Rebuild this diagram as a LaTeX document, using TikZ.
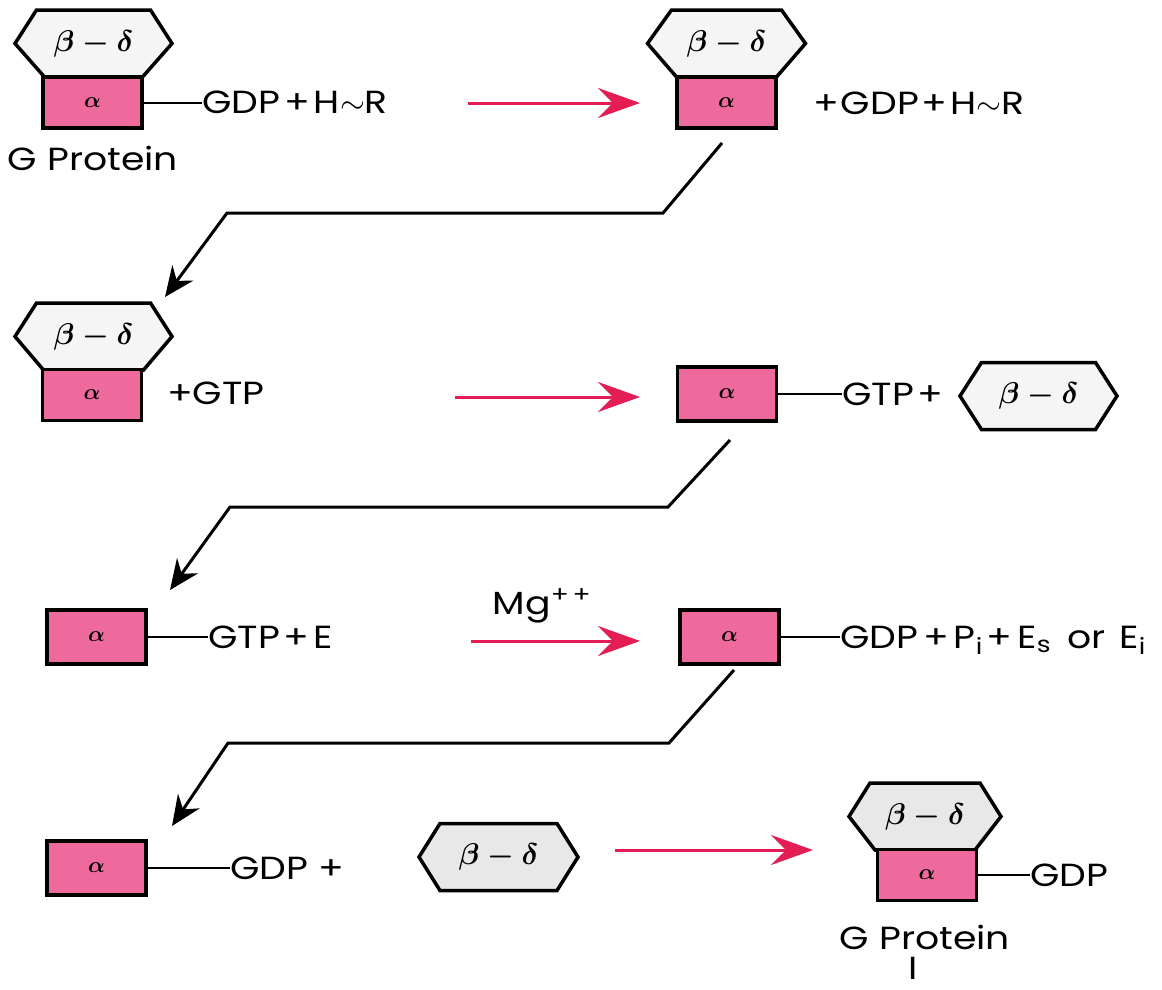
\RequirePackage{fix-cm}
\documentclass[tikz,border=0pt]{standalone}
\usepackage{fontspec}
\setmainfont{Poppins}[FakeStretch=1.18]
\usepackage{amsmath}
\usetikzlibrary{arrows.meta}
\definecolor{apink}{RGB}{238,106,156}
\definecolor{hexgray}{RGB}{245,245,245}
\definecolor{hexgraydark}{RGB}{232,232,232}
\definecolor{ared}{RGB}{228,30,85}
\tikzset{
  box/.style={draw=black, line width=3.5pt, fill=apink, minimum width=99pt, minimum height=51pt, inner sep=0pt, font=\fontsize{22}{22}\selectfont\boldmath},
  freebox/.style={box, minimum height=54pt},
  hexline/.style={draw=black, line width=3.5pt, line join=miter},
  hexlabel/.style={inner sep=0pt, font=\fontsize{30}{30}\selectfont\boldmath},
  txt/.style={inner sep=0pt, anchor=west, text height=22pt, text depth=0pt, font=\fontsize{32}{34}\selectfont},
  ctxt/.style={inner sep=0pt, font=\fontsize{32}{34}\selectfont},
  link/.style={line width=2pt},
  redarrow/.style={draw=ared, line width=3pt, -{Stealth[length=42pt,width=30pt,inset=15pt]}},
  blackarrow/.style={line width=3pt, line join=miter, -{Stealth[length=30pt,width=26pt,inset=10pt]}},
}
% name, cx, cy, half width, half top edge, half bottom edge, fill
\newcommand\hexagonal[7]{%
  \draw[hexline, fill=#7] (#2-#4,#3) -- (#2-#5,#3-33.5) -- (#2+#5,#3-33.5) -- (#2+#4,#3) -- (#2+#6,#3+33.5) -- (#2-#6,#3+33.5) -- cycle;
  \node[hexlabel] (#1) at (#2,#3) {$\beta-\delta$};}
\begin{document}
\begin{tikzpicture}[x=1pt,y=-1pt]
\useasboundingbox (0,0) rectangle (1162,989);
% ---------- Row 1
\hexagonal{h1}{93.5}{43.5}{78.5}{57}{49}{hexgray}
\node[box] (r1) at (92.5,102.5) {$\alpha$};
\node[txt] (t1) at (202,102.5) {GDP\kern4pt+\kern4pt H$\sim$R};
\draw[link] (r1.east) -- (r1.east -| t1.west);
\node[ctxt] (gp1) at (93,158) {G Protein};
\coordinate (a1s) at (468,103);
\coordinate (a1e) at (640,103);
\draw[redarrow] (a1s) -- (a1e);
\hexagonal{h2}{726.5}{43.5}{79}{55}{50}{hexgray}
\node[box] (r2) at (726.5,102.5) {$\alpha$};
\node[txt] (t2) at (813,103) {+\kern2pt GDP\kern3pt+\kern3pt H$\sim$R};
% ---------- arrow 1
\coordinate (b1s) at (722,143);
\coordinate (b1m) at (663,213);
\coordinate (b1n) at (227,213);
\coordinate (b1e) at (165,297);
\draw[blackarrow] (b1s) -- (b1m) -- (b1n) -- (b1e);
% ---------- Row 2
\hexagonal{h3}{93.5}{336.5}{78.5}{57}{50}{hexgray}
\node[box] (r3) at (92,395) {$\alpha$};
\node[txt] (t3) at (167,393) {+GTP};
\coordinate (a2s) at (455,397);
\coordinate (a2e) at (640,397);
\draw[redarrow] (a2s) -- (a2e);
\node[freebox] (r4) at (727,394) {$\alpha$};
\node[txt] (t4) at (842,394) {GTP\kern4pt+};
\draw[link] (r4.east) -- (r4.east -| t4.west);
\hexagonal{h4}{1038.5}{396}{78.5}{57}{57}{hexgray}
% ---------- arrow 2
\coordinate (b2s) at (730,440);
\coordinate (b2m) at (668,507);
\coordinate (b2n) at (230,507);
\coordinate (b2e) at (170,590);
\draw[blackarrow] (b2s) -- (b2m) -- (b2n) -- (b2e);
% ---------- Row 3
\node[freebox] (r5) at (96.5,637) {$\alpha$};
\node[txt] (t5) at (208,637) {GTP\kern4pt+\kern4pt E};
\draw[link] (r5.east) -- (r5.east -| t5.west);
\node[ctxt] (mg) at (542,606) {Mg\textsuperscript{+\,+}};
\coordinate (a3s) at (471,641);
\coordinate (a3e) at (640,641);
\draw[redarrow] (a3s) -- (a3e);
\node[freebox] (r6) at (729.5,637) {$\alpha$};
\node[txt] (t6) at (840,637) {GDP\kern5pt+\kern5pt P\textsubscript{i}\kern4pt+\kern5pt E\textsubscript{s}\kern16pt or\kern14pt E\textsubscript{i}};
\draw[link] (r6.east) -- (r6.east -| t6.west);
% ---------- arrow 3
\coordinate (b3s) at (734,670);
\coordinate (b3m) at (669,743);
\coordinate (b3n) at (228,743);
\coordinate (b3e) at (172,826);
\draw[blackarrow] (b3s) -- (b3m) -- (b3n) -- (b3e);
% ---------- Row 4
\node[freebox] (r7) at (96.5,868) {$\alpha$};
\node[txt] (t7) at (230,868) {GDP\kern10pt+};
\draw[link] (r7.east) -- (r7.east -| t7.west);
\hexagonal{h5}{498.5}{857}{79.5}{58.5}{58.5}{hexgraydark}
\coordinate (a4s) at (615,850);
\coordinate (a4e) at (813,850);
\draw[redarrow] (a4s) -- (a4e);
\hexagonal{h6}{925}{816.5}{76}{55}{50}{hexgraydark}
\node[box] (r8) at (927,875) {$\alpha$};
\node[txt] (t8) at (1030,875) {GDP};
\draw[link] (r8.east) -- (r8.east -| t8.west);
\node[ctxt] (gp2) at (925,937) {G Protein};
\node[ctxt] (gp2n) at (913,968) {I};
\end{tikzpicture}
\end{document}
